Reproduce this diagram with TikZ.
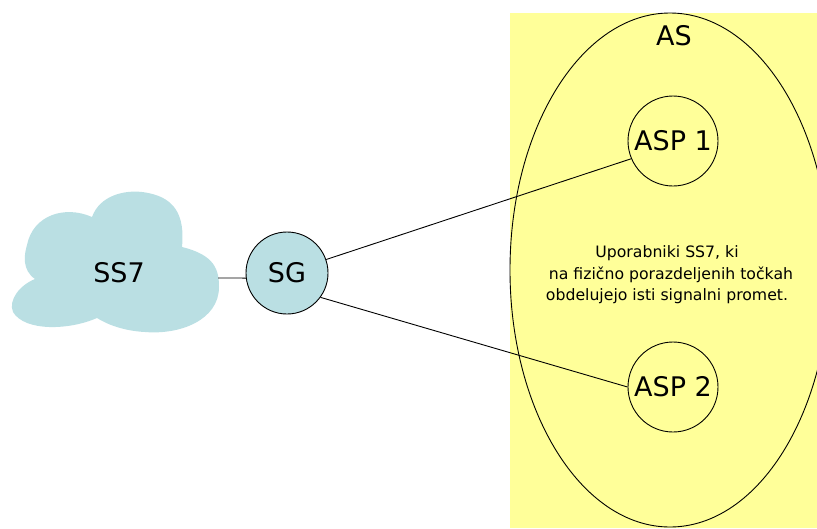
\documentclass[tikz,border=0pt]{standalone}
\usepackage{fontspec}
\setmainfont{DejaVu Sans}
\begin{document}
\begin{tikzpicture}[x=1pt,y=-1pt,
  line/.style={draw=black,line width=0.9pt},
  station/.style={circle,draw=black,line width=0.9pt,minimum size=90pt,inner sep=0pt,font=\fontsize{27}{30}\selectfont},
  label/.style={font=\fontsize{27}{30}\selectfont,inner sep=0pt}]
\definecolor{cloudblue}{RGB}{186,223,227}
\definecolor{asyellow}{RGB}{255,255,153}
\useasboundingbox (0,0) rectangle (817,528);

% application server area
\fill[asyellow] (510,13) rectangle (817,528);
\begin{scope}
  \clip (0,0) rectangle (817,528);
  \draw[line width=0.9pt] (670,270) ellipse [x radius=160, y radius=257];
\end{scope}
\node[label,anchor=base] (as) at (674,45) {AS};

% SS7 network cloud
\fill[cloudblue] (35,279)
  .. controls (22,270) and (24,255) .. (27,245)
  .. controls (33,215) and (65,205) .. (92,217)
  .. controls (100,195) and (125,190) .. (142,192)
  .. controls (175,196) and (185,215) .. (182,247)
  .. controls (215,255) and (219,270) .. (219,287)
  .. controls (219,320) and (180,335) .. (145,332)
  .. controls (125,331) and (108,325) .. (97,318)
  .. controls (70,330) and (25,332) .. (13,312)
  .. controls (8,300) and (20,285) .. (35,279) -- cycle;
\node[label] (ss7) at (119,273) {SS7};
\coordinate (cloudedge) at (218,278);

% signalling gateway and application server processes
\node[station,fill=cloudblue,minimum size=82pt] (sg) at (287,273) {SG};
\node[station] (asp1) at (673,141) {ASP 1};
\node[station] (asp2) at (673,387) {ASP 2};

\node[inner sep=0pt,align=center,font=\fontsize{15.7}{21.5}\selectfont] (desc) at (667,275)
  {Uporabniki SS7, ki\\ \hspace*{8pt}na fizično porazdeljenih točkah\\ obdelujejo isti signalni promet.};

% links
\draw[line] (cloudedge) -- (sg.187);
\draw[line] (sg.19) -- (asp1.203);
\draw[line] (sg.-36) -- (asp2.west);
\end{tikzpicture}
\end{document}
